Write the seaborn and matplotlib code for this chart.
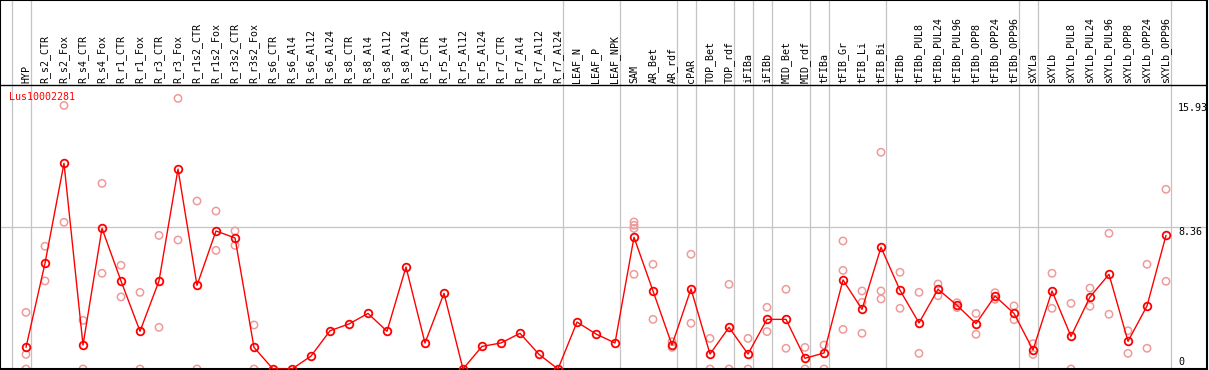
import numpy as np
import pandas as pd
import matplotlib
matplotlib.use('Agg')
import matplotlib.pyplot as plt
import seaborn as sns

sns.set_style('white')
plt.rcParams['font.family'] = ['DejaVu Sans Mono', 'DejaVu Sans']

# data
gene = 'Lus10002281'
samples = ['HYP', 'R_s2_CTR', 'R_s2_Fox', 'R_s4_CTR', 'R_s4_Fox', 'R_r1_CTR', 'R_r1_Fox',
           'R_r3_CTR', 'R_r3_Fox', 'R_r1s2_CTR', 'R_r1s2_Fox', 'R_r3s2_CTR', 'R_r3s2_Fox',
           'R_s6_CTR', 'R_s6_Al4', 'R_s6_Al12', 'R_s6_Al24', 'R_s8_CTR', 'R_s8_Al4',
           'R_s8_Al12', 'R_s8_Al24', 'R_r5_CTR', 'R_r5_Al4', 'R_r5_Al12', 'R_r5_Al24',
           'R_r7_CTR', 'R_r7_Al4', 'R_r7_Al12', 'R_r7_Al24', 'LEAF_N', 'LEAF_P', 'LEAF_NPK',
           'SAM', 'AR_Bet', 'AR_rdf', 'cPAR', 'TOP_Bet', 'TOP_rdf', 'iFIBa', 'iFIBb',
           'MID_Bet', 'MID_rdf', 'tFIBa', 'tFIB_Gr', 'tFIB_Li', 'tFIB_Bi', 'tFIBb',
           'tFIBb_PUL8', 'tFIBb_PUL24', 'tFIBb_PUL96', 'tFIBb_OPP8', 'tFIBb_OPP24',
           'tFIBb_OPP96', 'sXYLa', 'sXYLb', 'sXYLb_PUL8', 'sXYLb_PUL24', 'sXYLb_PUL96',
           'sXYLb_OPP8', 'sXYLb_OPP24', 'sXYLb_OPP96']

means = [1.27, 6.22, 12.1, 1.41, 8.27, 5.18, 2.22, 5.18, 11.76, 4.92, 8.12, 7.71, 1.27,
         0, 0, 0.76, 2.25, 2.65, 3.27, 2.22, 6.0, 1.53, 4.45, 0, 1.33, 1.53, 2.10, 0.86, 0,
         2.76, 2.06, 1.53,
         7.75, 4.59, 1.41, 4.71, 0.88, 2.45, 0.88, 2.92, 2.92, 0.63, 0.94, 5.24, 3.51, 7.16,
         4.63, 2.71, 4.69, 3.75, 2.67, 4.29, 3.27, 1.12, 4.59, 1.92, 4.24, 5.57, 1.63, 3.71, 7.86]

reps = [[3.33, 0.86, 0], [7.22, 5.18], [15.5, 8.63], [2.86, 0], [10.92, 5.63],
        [6.10, 4.24], [4.51, 0], [7.86, 2.45], [15.92, 7.59], [9.88, 0], [9.29, 6.98],
        [8.12, 7.27], [2.59, 0],
        [], [], [], [], [], [], [], [], [], [], [], [], [], [], [], [], [], [], [],
        [8.65, 8.45, 8.27, 5.57], [6.16, 2.92], [1.61, 1.27], [6.75, 2.69], [1.80, 0],
        [4.98, 0], [1.80, 0], [3.63, 2.20], [4.69, 1.22], [1.27, 0], [1.41, 0],
        [7.53, 5.80, 2.33], [4.59, 3.92, 2.10], [12.75, 4.59, 4.12],
        [5.69, 3.57], [4.51, 0.92], [5.00, 4.31], [3.90, 3.61], [3.27, 2.04], [4.49, 4.10],
        [3.71, 2.90], [1.49, 0.86], [5.63, 3.57], [3.86, 0], [4.76, 3.69], [7.98, 3.22],
        [2.25, 0.92], [6.16, 1.22], [10.57, 5.16]]

# separator lines come right after these columns
group_ends = [-1, 0, 28, 31, 34, 35, 37, 38, 39, 41, 42, 45, 52, 53, 60]
scale_vals = [15.93, 8.36, 0]
scale_txt = ['15.93', '8.36', '0']

pos = np.arange(len(samples))
rep_df = pd.DataFrame([(i, v) for i, vals in enumerate(reps) for v in vals],
                      columns=['pos', 'value'])

W, H = 1209, 370
px_per_unit = 17.0
fig = plt.figure(figsize=(W / 100, H / 100), dpi=100)
ax = fig.add_axes([0, 1 / H, 1207 / W, 369 / H])

# x: column i at 26 + 19*i pixels; y: 0 at bottom, header above data
ax.set_xlim(-26 / 19, (1207 - 26) / 19)
ax.set_ylim(0, 369 / px_per_unit)
header_y = (369 - 85) / px_per_unit

for g in group_ends:
    ax.axvline(g + 0.25, color='#c4c4c4', lw=0.9, zorder=1)
ax.plot([-2, 63], [8.36, 8.36], color='#c4c4c4', lw=0.9, zorder=1)
ax.axhline(header_y, color='black', lw=1.0, zorder=4)

sns.scatterplot(data=rep_df, x='pos', y='value', marker='o', s=28,
                facecolor='none', edgecolor='#ef9a9a', linewidth=1.1,
                ax=ax, zorder=2, legend=False)
sns.lineplot(x=pos, y=means, color='red', lw=1.0, marker='o', markersize=5.5,
             markerfacecolor='none', markeredgecolor='red', markeredgewidth=1.3,
             ax=ax, zorder=3)

for i, name in enumerate(samples):
    ax.annotate(name, (i, header_y), xytext=(0, 1.7), textcoords='offset points',
                rotation=90, ha='center', va='bottom', fontsize=7.2, color='black')

offsets = [-6.8, -3.4, 5.3]
for v, t, dy in zip(scale_vals, scale_txt, offsets):
    ax.annotate(t, ((1178 - 26) / 19, v), xytext=(0, dy), textcoords='offset points',
                ha='left', va='center', fontsize=7.2, color='black')

fig.text(9.3 / W, 1 - 97.3 / H, gene, color='red', ha='left', va='center', fontsize=7.2)

ax.set_xlabel('')
ax.set_ylabel('')
ax.set_xticks([])
ax.set_yticks([])
for s in ax.spines.values():
    s.set_color('black')
    s.set_linewidth(1.5)

fig.savefig('out.png', dpi=100)
